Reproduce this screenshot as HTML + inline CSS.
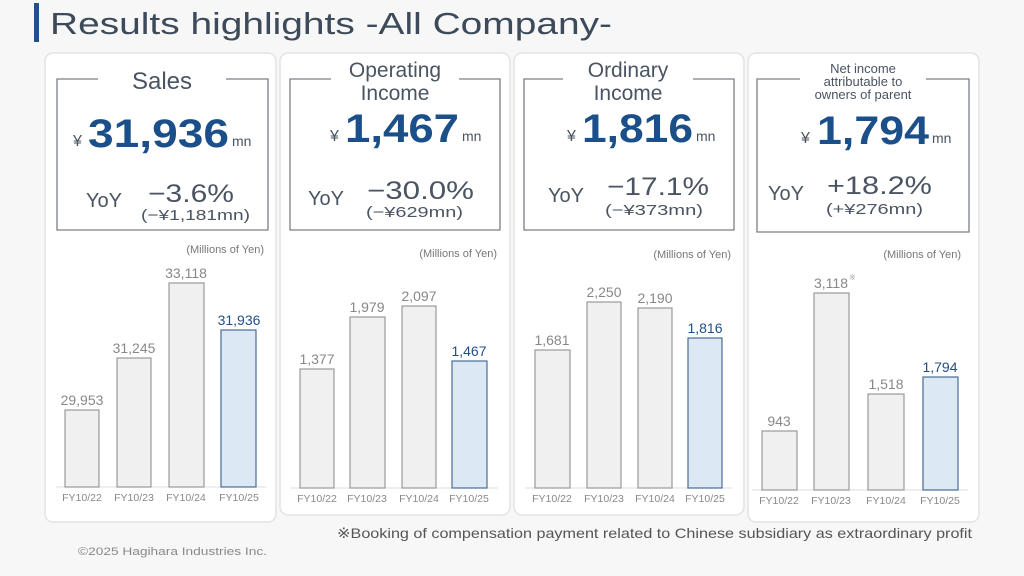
<!DOCTYPE html>
<html><head><meta charset="utf-8"><style>
html,body{margin:0;padding:0;background:#f7f7f7;}
svg{display:block;font-family:"Liberation Sans","DejaVu Sans",sans-serif;}
</style></head><body>
<svg width="1024" height="576" viewBox="0 0 1024 576" xmlns="http://www.w3.org/2000/svg">
<rect width="1024" height="576" fill="#f7f7f7"/>
<rect x="34" y="3" width="5" height="39" fill="#1f5088"/>
<text x="50" y="34" font-size="31" fill="#3d4a5a" textLength="562" lengthAdjust="spacingAndGlyphs">Results highlights  -All Company-</text>

<g fill="#fff" stroke="#e3e3e3" stroke-width="1.5">
<rect x="45" y="53" width="231" height="469" rx="8"/>
<rect x="280" y="53" width="230" height="462" rx="8"/>
<rect x="514" y="53" width="230" height="462" rx="8"/>
<rect x="748" y="53" width="231" height="469" rx="8"/>
</g>

<g fill="none" stroke="#7a7f86" stroke-width="1.3">
<path d="M98 79 H57 V230 H268 V79 H226"/>
<path d="M331 79 H290 V230 H500 V79 H459"/>
<path d="M563 79 H524 V230 H734 V79 H693"/>
<path d="M800 79 H757 V232 H969 V79 H926"/>
</g>

<g fill="#4a5462" text-anchor="middle">
<text x="162" y="89" font-size="24">Sales</text>
<text x="395" y="77" font-size="21">Operating</text>
<text x="395" y="100" font-size="21">Income</text>
<text x="628" y="77" font-size="21">Ordinary</text>
<text x="628" y="100" font-size="21">Income</text>
<text x="863" y="73" font-size="13">Net income</text>
<text x="863" y="86" font-size="13">attributable to</text>
<text x="863" y="99" font-size="13">owners of parent</text>
</g>

<g fill="#1b4f8a" font-weight="bold" font-size="40" lengthAdjust="spacingAndGlyphs">
<text x="88" y="147" textLength="141" lengthAdjust="spacingAndGlyphs">31,936</text>
<text x="345" y="142" textLength="114" lengthAdjust="spacingAndGlyphs">1,467</text>
<text x="582" y="142" textLength="111" lengthAdjust="spacingAndGlyphs">1,816</text>
<text x="817" y="144" textLength="112" lengthAdjust="spacingAndGlyphs">1,794</text>
</g>
<g fill="#4a5462" font-size="16">
<text x="73" y="146">¥</text><text x="232" y="146" font-size="14">mn</text>
<text x="330" y="141">¥</text><text x="462" y="141" font-size="14">mn</text>
<text x="567" y="141">¥</text><text x="696" y="141" font-size="14">mn</text>
<text x="801" y="143">¥</text><text x="932" y="143" font-size="14">mn</text>
</g>

<g fill="#4a5462">
<text x="86" y="207" font-size="20">YoY</text>
<text x="148" y="202" font-size="25" textLength="86" lengthAdjust="spacingAndGlyphs">−3.6%</text>
<text x="141" y="220" font-size="15" textLength="109" lengthAdjust="spacingAndGlyphs">(−¥1,181mn)</text>
<text x="308" y="205" font-size="20">YoY</text>
<text x="367" y="199" font-size="25" textLength="107" lengthAdjust="spacingAndGlyphs">−30.0%</text>
<text x="366" y="217" font-size="15" textLength="97" lengthAdjust="spacingAndGlyphs">(−¥629mn)</text>
<text x="548" y="202" font-size="20">YoY</text>
<text x="607" y="195" font-size="25" textLength="102" lengthAdjust="spacingAndGlyphs">−17.1%</text>
<text x="605" y="215" font-size="15" textLength="98" lengthAdjust="spacingAndGlyphs">(−¥373mn)</text>
<text x="768" y="200" font-size="20">YoY</text>
<text x="827" y="194" font-size="25" textLength="105" lengthAdjust="spacingAndGlyphs">+18.2%</text>
<text x="826" y="214" font-size="15" textLength="97" lengthAdjust="spacingAndGlyphs">(+¥276mn)</text>
</g>

<g fill="#777" font-size="11" text-anchor="end">
<text x="264" y="253">(Millions of Yen)</text>
<text x="497" y="257">(Millions of Yen)</text>
<text x="731" y="258">(Millions of Yen)</text>
<text x="961" y="258">(Millions of Yen)</text>
</g>

<g stroke="#d8dde5" stroke-width="1">
<line x1="56" y1="487" x2="266" y2="487"/>
<line x1="290" y1="488" x2="498" y2="488"/>
<line x1="525" y1="488" x2="732" y2="488"/>
<line x1="752" y1="490" x2="968" y2="490"/>
</g>

<g fill="#f0f0f0" stroke="#9a9a9a" stroke-width="1.2">
<rect x="65" y="410" width="34" height="77"/>
<rect x="117" y="358" width="34" height="129"/>
<rect x="169" y="283" width="35" height="204"/>
<rect x="300" y="369" width="34" height="119"/>
<rect x="350" y="317" width="35" height="171"/>
<rect x="402" y="306" width="34" height="182"/>
<rect x="535" y="350" width="35" height="138"/>
<rect x="587" y="302" width="34" height="186"/>
<rect x="638" y="308" width="34" height="180"/>
<rect x="762" y="431" width="35" height="59"/>
<rect x="814" y="293" width="35" height="197"/>
<rect x="868" y="394" width="36" height="96"/>
</g>
<g fill="#dde8f5" stroke="#4a6d93" stroke-width="1.2">
<rect x="221" y="330" width="35" height="157"/>
<rect x="452" y="361" width="35" height="127"/>
<rect x="688" y="338" width="34" height="150"/>
<rect x="923" y="377" width="35" height="113"/>
</g>

<g fill="#888" font-size="14" text-anchor="middle">
<text x="82" y="405">29,953</text>
<text x="134" y="353">31,245</text>
<text x="186" y="278">33,118</text>
<text x="317" y="364">1,377</text>
<text x="367" y="312">1,979</text>
<text x="419" y="301">2,097</text>
<text x="552" y="345">1,681</text>
<text x="604" y="297">2,250</text>
<text x="655" y="303">2,190</text>
<text x="779" y="426">943</text>
<text x="831" y="288">3,118</text>
<text x="886" y="389">1,518</text>
</g>
<text x="849" y="280" font-size="8" fill="#aaa">※</text>
<g fill="#1f5088" font-size="14" text-anchor="middle">
<text x="239" y="325">31,936</text>
<text x="469" y="356">1,467</text>
<text x="705" y="333">1,816</text>
<text x="940" y="372">1,794</text>
</g>

<g fill="#888" font-size="10.5" text-anchor="middle">
<text x="82" y="501">FY10/22</text><text x="134" y="501">FY10/23</text><text x="186" y="501">FY10/24</text><text x="239" y="501">FY10/25</text>
<text x="317" y="502">FY10/22</text><text x="367" y="502">FY10/23</text><text x="419" y="502">FY10/24</text><text x="469" y="502">FY10/25</text>
<text x="552" y="502">FY10/22</text><text x="604" y="502">FY10/23</text><text x="655" y="502">FY10/24</text><text x="705" y="502">FY10/25</text>
<text x="779" y="504">FY10/22</text><text x="831" y="504">FY10/23</text><text x="886" y="504">FY10/24</text><text x="940" y="504">FY10/25</text>
</g>

<text x="337" y="538" font-size="14" fill="#555" textLength="635" lengthAdjust="spacingAndGlyphs">※Booking of compensation payment related to Chinese subsidiary as extraordinary profit</text>
<text x="78" y="555" font-size="11" fill="#888" textLength="189" lengthAdjust="spacingAndGlyphs">©2025 Hagihara Industries Inc.</text>
</svg>
</body></html>
